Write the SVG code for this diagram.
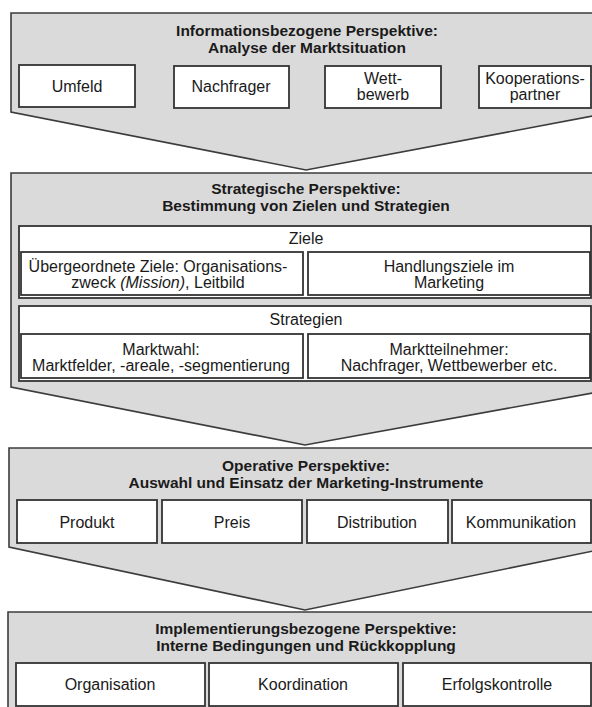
<svg xmlns="http://www.w3.org/2000/svg" width="592" height="707" viewBox="0 0 592 707">
<style>
.panel{fill:#dadada;stroke:#3c3c3c;stroke-width:1.6}
.box{fill:#fff;stroke:#333;stroke-width:1.8}
.t{font-family:"Liberation Sans",Arial,sans-serif;font-size:16px;fill:#1a1a1a;text-anchor:middle}
.b{font-weight:bold;font-size:15.5px}
</style>
<rect width="592" height="707" fill="#fff"/>
<g id="connectors"/>
<g id="panel-info">
<path class="panel" d="M11,13 L598,13 L598,115 L306,170 L11,112 Z"/>
<text class="t b" x="307" y="36">Informationsbezogene Perspektive:</text>
<text class="t b" x="307" y="53">Analyse der Marktsituation</text>
<g id="box-umfeld"><rect class="box" x="19" y="65" width="116" height="42"/><text class="t" x="77" y="92">Umfeld</text></g>
<g id="box-nachfrager"><rect class="box" x="174" y="66" width="115" height="42"/><text class="t" x="231" y="92">Nachfrager</text></g>
<g id="box-wettbewerb"><rect class="box" x="325" y="66" width="116" height="42"/><text class="t" x="383" y="84">Wett-</text><text class="t" x="383" y="100">bewerb</text></g>
<g id="box-kooperation"><rect class="box" x="479" y="66" width="112" height="42"/><text class="t" x="535" y="84">Kooperations-</text><text class="t" x="535" y="100">partner</text></g>
</g>
<g id="panel-strategie">
<path class="panel" d="M11,173 L598,173 L598,392 L305,445 L11,387 Z"/>
<text class="t b" x="306" y="194">Strategische Perspektive:</text>
<text class="t b" x="306" y="211">Bestimmung von Zielen und Strategien</text>
<g id="box-ziele">
<rect class="box" x="19" y="226" width="572" height="72"/>
<text class="t" x="306" y="244">Ziele</text>
<g id="box-uebergeordnet"><rect class="box" x="21" y="252" width="282" height="43"/><text class="t" x="158" y="272">Übergeordnete Ziele: Organisations-</text><text class="t" x="158" y="288">zweck <tspan font-style="italic">(Mission)</tspan>, Leitbild</text></g>
<g id="box-handlungsziele"><rect class="box" x="308" y="252" width="282" height="43"/><text class="t" x="449" y="272">Handlungsziele im</text><text class="t" x="449" y="288">Marketing</text></g>
</g>
<g id="box-strategien">
<rect class="box" x="19" y="306" width="572" height="75"/>
<text class="t" x="306" y="325">Strategien</text>
<g id="box-marktwahl"><rect class="box" x="21" y="334" width="282" height="44"/><text class="t" x="161" y="355">Marktwahl:</text><text class="t" x="161" y="371">Marktfelder, -areale, -segmentierung</text></g>
<g id="box-marktteilnehmer"><rect class="box" x="308" y="334" width="282" height="44"/><text class="t" x="449" y="355">Marktteilnehmer:</text><text class="t" x="449" y="371">Nachfrager, Wettbewerber etc.</text></g>
</g>
</g>
<g id="panel-operativ">
<path class="panel" d="M9,448 L598,448 L598,550 L305,610 L9,547 Z"/>
<text class="t b" x="306" y="471">Operative Perspektive:</text>
<text class="t b" x="306" y="488">Auswahl und Einsatz der Marketing-Instrumente</text>
<g id="box-produkt"><rect class="box" x="17" y="500" width="140" height="43"/><text class="t" x="87" y="528">Produkt</text></g>
<g id="box-preis"><rect class="box" x="162" y="500" width="140" height="43"/><text class="t" x="232" y="528">Preis</text></g>
<g id="box-distribution"><rect class="box" x="307" y="500" width="141" height="43"/><text class="t" x="377" y="528">Distribution</text></g>
<g id="box-kommunikation"><rect class="box" x="452" y="500" width="139" height="43"/><text class="t" x="521" y="528">Kommunikation</text></g>
</g>
<g id="panel-implementierung">
<path class="panel" d="M8,612 L598,612 L598,720 L8,720 Z"/>
<text class="t b" x="306" y="634">Implementierungsbezogene Perspektive:</text>
<text class="t b" x="306" y="651">Interne Bedingungen und Rückkopplung</text>
<g id="box-organisation"><rect class="box" x="16" y="663" width="189" height="43"/><text class="t" x="110" y="690">Organisation</text></g>
<g id="box-koordination"><rect class="box" x="209" y="663" width="189" height="43"/><text class="t" x="303" y="690">Koordination</text></g>
<g id="box-erfolgskontrolle"><rect class="box" x="403" y="663" width="188" height="43"/><text class="t" x="497" y="690">Erfolgskontrolle</text></g>
</g>
</svg>
